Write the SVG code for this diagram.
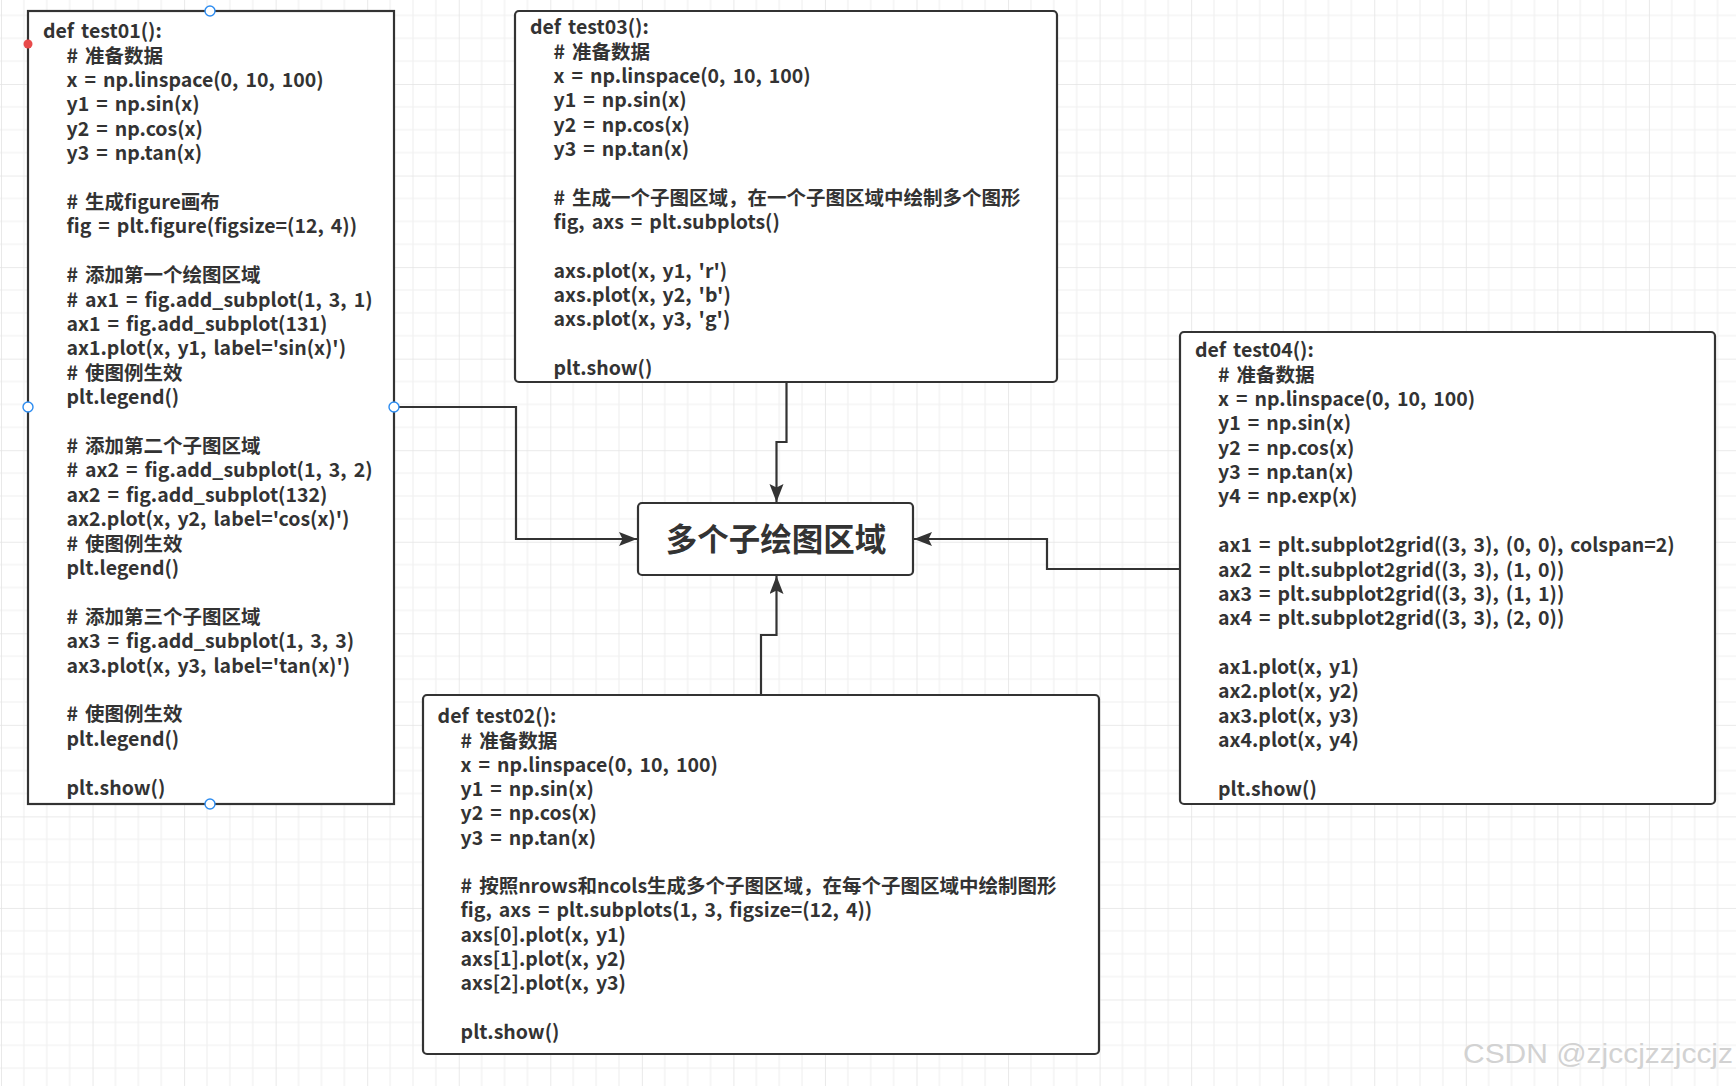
<svg xmlns="http://www.w3.org/2000/svg" width="1736" height="1086" viewBox="0 0 1736 1086">
<style>
.box{fill:#ffffff;stroke:#333333;stroke-width:2.2}
.code{font-family:"Noto Sans CJK SC","Noto Sans",sans-serif;font-weight:bold;font-size:19.5px;fill:#333333;word-spacing:2.6px}
.title{font-family:"Noto Sans CJK SC","Noto Sans",sans-serif;font-weight:bold;font-size:31.5px;fill:#333333}
.conn{fill:none;stroke:#333333;stroke-width:2.2}
.handle{fill:#ffffff;stroke:#2d8cf0;stroke-width:1.4}
.wm{font-family:"Liberation Sans",Arial,sans-serif;font-size:27px;fill:#d2d2d2}
</style>
<defs>
<pattern id="grid" patternUnits="userSpaceOnUse" x="1" y="-7.55" width="91.55" height="91.55">
<path d="M22.89,0V91.55M45.78,0V91.55M68.66,0V91.55M0,22.89H91.55M0,45.78H91.55M0,68.66H91.55" stroke="#f0f0f0" stroke-width="1.2" fill="none"/>
<path d="M0,0V91.55M0,0H91.55" stroke="#e4e4e4" stroke-width="1.6" fill="none"/>
</pattern>
<marker id="arr" markerUnits="userSpaceOnUse" markerWidth="20" markerHeight="16" refX="18" refY="7" orient="auto">
<path d="M0,0 L18,7 L0,14 L3.5,7 z" fill="#333333"/>
</marker>
</defs>
<rect x="0" y="0" width="1736" height="1086" fill="#ffffff"/>
<rect x="0" y="0" width="1736" height="1086" fill="url(#grid)"/>

<g id="connectors">
<path class="conn" d="M394,407 H516 V539 H637" marker-end="url(#arr)"/>
<path class="conn" d="M786.5,382 V442 H776.5 V502" marker-end="url(#arr)"/>
<path class="conn" d="M761,695 V635 H776.5 V576" marker-end="url(#arr)"/>
<path class="conn" d="M1180,569 H1047 V539 H914" marker-end="url(#arr)"/>
</g>

<g id="test01">
<rect class="box" x="28" y="11" width="366" height="793"/>
<text class="code">
<tspan x="43" y="38.2">def test01():</tspan>
<tspan x="66.5" y="62.6"># 准备数据</tspan>
<tspan x="66.5" y="87">x = np.linspace(0, 10, 100)</tspan>
<tspan x="66.5" y="111.4">y1 = np.sin(x)</tspan>
<tspan x="66.5" y="135.8">y2 = np.cos(x)</tspan>
<tspan x="66.5" y="160.2">y3 = np.tan(x)</tspan>
<tspan x="66.5" y="209"># 生成figure画布</tspan>
<tspan x="66.5" y="233.4">fig = plt.figure(figsize=(12, 4))</tspan>
<tspan x="66.5" y="282.2"># 添加第一个绘图区域</tspan>
<tspan x="66.5" y="306.6"># ax1 = fig.add_subplot(1, 3, 1)</tspan>
<tspan x="66.5" y="331">ax1 = fig.add_subplot(131)</tspan>
<tspan x="66.5" y="355.4">ax1.plot(x, y1, label='sin(x)')</tspan>
<tspan x="66.5" y="379.8"># 使图例生效</tspan>
<tspan x="66.5" y="404.2">plt.legend()</tspan>
<tspan x="66.5" y="453"># 添加第二个子图区域</tspan>
<tspan x="66.5" y="477.4"># ax2 = fig.add_subplot(1, 3, 2)</tspan>
<tspan x="66.5" y="501.8">ax2 = fig.add_subplot(132)</tspan>
<tspan x="66.5" y="526.2">ax2.plot(x, y2, label='cos(x)')</tspan>
<tspan x="66.5" y="550.6"># 使图例生效</tspan>
<tspan x="66.5" y="575">plt.legend()</tspan>
<tspan x="66.5" y="623.8"># 添加第三个子图区域</tspan>
<tspan x="66.5" y="648.2">ax3 = fig.add_subplot(1, 3, 3)</tspan>
<tspan x="66.5" y="672.6">ax3.plot(x, y3, label='tan(x)')</tspan>
<tspan x="66.5" y="721.4"># 使图例生效</tspan>
<tspan x="66.5" y="745.8">plt.legend()</tspan>
<tspan x="66.5" y="794.6">plt.show()</tspan>
</text>
<circle class="handle" cx="210" cy="11" r="5"/>
<circle class="handle" cx="28" cy="407" r="5"/>
<circle class="handle" cx="394" cy="407" r="5"/>
<circle class="handle" cx="210" cy="804" r="5"/>
<circle cx="28" cy="44" r="4.5" fill="#e84a4a"/>
</g>

<g id="test03">
<rect class="box" x="515" y="11" width="542" height="371" rx="4"/>
<text class="code">
<tspan x="530" y="34.2">def test03():</tspan>
<tspan x="553.5" y="58.5"># 准备数据</tspan>
<tspan x="553.5" y="82.9">x = np.linspace(0, 10, 100)</tspan>
<tspan x="553.5" y="107.2">y1 = np.sin(x)</tspan>
<tspan x="553.5" y="131.5">y2 = np.cos(x)</tspan>
<tspan x="553.5" y="155.9">y3 = np.tan(x)</tspan>
<tspan x="553.5" y="204.5"># 生成一个子图区域，在一个子图区域中绘制多个图形</tspan>
<tspan x="553.5" y="228.8">fig, axs = plt.subplots()</tspan>
<tspan x="553.5" y="277.5">axs.plot(x, y1, 'r')</tspan>
<tspan x="553.5" y="301.8">axs.plot(x, y2, 'b')</tspan>
<tspan x="553.5" y="326.1">axs.plot(x, y3, 'g')</tspan>
<tspan x="553.5" y="374.8">plt.show()</tspan>
</text>
</g>

<g id="test04">
<rect class="box" x="1180" y="332" width="535" height="472" rx="4"/>
<text class="code">
<tspan x="1195" y="357.2">def test04():</tspan>
<tspan x="1218" y="381.6"># 准备数据</tspan>
<tspan x="1218" y="405.9">x = np.linspace(0, 10, 100)</tspan>
<tspan x="1218" y="430.3">y1 = np.sin(x)</tspan>
<tspan x="1218" y="454.7">y2 = np.cos(x)</tspan>
<tspan x="1218" y="479.1">y3 = np.tan(x)</tspan>
<tspan x="1218" y="503.4">y4 = np.exp(x)</tspan>
<tspan x="1218" y="552.2">ax1 = plt.subplot2grid((3, 3), (0, 0), colspan=2)</tspan>
<tspan x="1218" y="576.5">ax2 = plt.subplot2grid((3, 3), (1, 0))</tspan>
<tspan x="1218" y="600.9">ax3 = plt.subplot2grid((3, 3), (1, 1))</tspan>
<tspan x="1218" y="625.3">ax4 = plt.subplot2grid((3, 3), (2, 0))</tspan>
<tspan x="1218" y="674">ax1.plot(x, y1)</tspan>
<tspan x="1218" y="698.4">ax2.plot(x, y2)</tspan>
<tspan x="1218" y="722.8">ax3.plot(x, y3)</tspan>
<tspan x="1218" y="747.1">ax4.plot(x, y4)</tspan>
<tspan x="1218" y="795.9">plt.show()</tspan>
</text>
</g>

<g id="test02">
<rect class="box" x="423" y="695" width="676" height="359" rx="4"/>
<text class="code">
<tspan x="437.6" y="723.2">def test02():</tspan>
<tspan x="460.6" y="747.5"># 准备数据</tspan>
<tspan x="460.6" y="771.8">x = np.linspace(0, 10, 100)</tspan>
<tspan x="460.6" y="796">y1 = np.sin(x)</tspan>
<tspan x="460.6" y="820.3">y2 = np.cos(x)</tspan>
<tspan x="460.6" y="844.6">y3 = np.tan(x)</tspan>
<tspan x="460.6" y="893.2"># 按照nrows和ncols生成多个子图区域，在每个子图区域中绘制图形</tspan>
<tspan x="460.6" y="917.4">fig, axs = plt.subplots(1, 3, figsize=(12, 4))</tspan>
<tspan x="460.6" y="941.7">axs[0].plot(x, y1)</tspan>
<tspan x="460.6" y="966">axs[1].plot(x, y2)</tspan>
<tspan x="460.6" y="990.3">axs[2].plot(x, y3)</tspan>
<tspan x="460.6" y="1038.8">plt.show()</tspan>
</text>
</g>

<g id="center">
<rect class="box" x="638" y="503" width="275" height="72" rx="4"/>
<text class="title" x="776" y="551" text-anchor="middle">多个子绘图区域</text>
</g>

<text class="wm" x="1463" y="1063" textLength="270" lengthAdjust="spacingAndGlyphs">CSDN @zjccjzzjccjz</text>
</svg>
